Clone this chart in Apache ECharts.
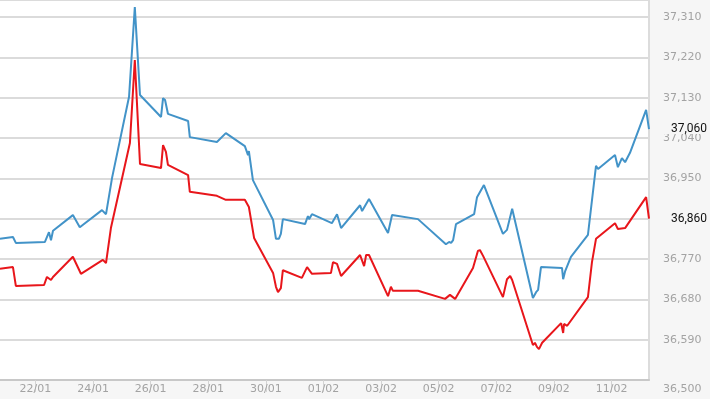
<!DOCTYPE html>
<html>
<head>
<meta charset="utf-8">
<script src="https://cdn.jsdelivr.net/npm/echarts@6/dist/echarts.min.js"></script>
<style>
    html, body { margin: 0; padding: 0; background: #f6f6f6; }
    #chart { width: 710px; height: 399px; }
</style>
</head>
<body>
<div id="chart"></div>
<script>
// x values are day numbers counted from 1 Jan (1 Feb = 32)
const tickDays = [22, 24, 26, 28, 30, 32, 34, 36, 38, 40, 42];
const tickLabels = ["22/01", "24/01", "26/01", "28/01", "30/01", "01/02", "03/02", "05/02", "07/02", "09/02", "11/02"];

const blueDays = [20.77, 21.22, 21.32, 22.33, 22.47, 22.54, 22.61, 23.30, 23.54, 24.31, 24.45, 24.66, 25.25, 25.45, 25.63,
    26.36, 26.43, 26.50, 26.60, 27.30, 27.36, 28.30, 28.61, 29.27, 29.38, 29.41, 29.55, 30.25, 30.35, 30.45,
    30.52, 30.59, 31.36, 31.46, 31.50, 31.60, 32.29, 32.47, 32.61, 33.27, 33.34, 33.58, 34.24, 34.38, 35.28,
    36.25, 36.36, 36.43, 36.50, 36.60, 37.23, 37.33, 37.57, 38.23, 38.37, 38.55, 39.27, 39.38, 39.45, 39.55,
    40.28, 40.32, 40.39, 40.59, 41.18, 41.46, 41.53, 42.12, 42.22, 42.36, 42.47, 42.64, 43.20, 43.30];
const blueValues = [36815, 36819, 36806, 36808, 36830, 36812, 36833, 36868, 36841, 36879, 36870, 36951, 37132, 37332, 37136,
    37087, 37129, 37125, 37094, 37078, 37042, 37031, 37051, 37022, 37002, 37011, 36946, 36857, 36815, 36815,
    36826, 36859, 36848, 36866, 36859, 36870, 36850, 36870, 36839, 36890, 36877, 36904, 36828, 36868, 36859,
    36803, 36808, 36806, 36812, 36848, 36870, 36908, 36935, 36826, 36835, 36882, 36683, 36696, 36701, 36752,
    36750, 36725, 36743, 36775, 36824, 36978, 36971, 37002, 36975, 36995, 36986, 37007, 37103, 37060];

const redDays = [20.77, 21.22, 21.32, 22.30, 22.40, 22.54, 22.61, 23.30, 23.58, 24.34, 24.45, 24.62, 25.28, 25.45, 25.63,
    26.36, 26.43, 26.53, 26.60, 27.30, 27.36, 28.30, 28.61, 29.27, 29.41, 29.59, 30.25, 30.35, 30.42, 30.52,
    30.59, 31.25, 31.43, 31.60, 32.26, 32.33, 32.47, 32.61, 33.27, 33.41, 33.48, 33.58, 34.24, 34.34, 34.41,
    35.28, 36.22, 36.39, 36.57, 37.19, 37.36, 37.43, 37.54, 38.23, 38.37, 38.48, 38.55, 39.27, 39.34, 39.41,
    39.48, 39.59, 40.25, 40.32, 40.35, 40.46, 41.18, 41.32, 41.46, 42.12, 42.22, 42.47, 43.20, 43.30];
const redValues = [36748, 36752, 36710, 36712, 36730, 36723, 36730, 36775, 36737, 36768, 36761, 36839, 37029, 37214, 36982,
    36973, 37024, 37009, 36980, 36957, 36920, 36911, 36902, 36902, 36886, 36817, 36739, 36708, 36696, 36705,
    36745, 36728, 36752, 36737, 36739, 36763, 36759, 36732, 36779, 36754, 36779, 36779, 36687, 36708, 36699,
    36699, 36681, 36690, 36681, 36750, 36788, 36790, 36777, 36685, 36725, 36732, 36723, 36578, 36583, 36574,
    36569, 36583, 36627, 36605, 36625, 36621, 36685, 36763, 36815, 36850, 36837, 36839, 36908, 36860];

const yMin = 36500;
const yMax = 37348;
const yStep = 90;

window.onload = function () {

    function fmt(v) {
        return String(Math.round(v)).replace(/\B(?=(\d{3})+(?!\d))/g, ",");
    }

    function pairs(xs, ys) {
        return xs.map((x, i) => [x, ys[i]]);
    }

    const chart = echarts.init(document.querySelector("#chart"));

    // last value shown in black next to the axis
    const endLabel = {
        show: true,
        distance: 14,
        color: "#111",
        fontFamily: "Roboto, sans-serif",
        fontSize: 12,
        lineHeight: 10,
        padding: [0, 3, 0, 8],
        backgroundColor: "#f6f6f6",
        formatter: p => fmt(p.value[1])
    };

    const option = {
        animation: false,
        backgroundColor: "#f6f6f6",
        grid: {
            left: 0, right: 61, top: 0, bottom: 19,
            show: true, backgroundColor: "#fff", borderWidth: 0
        },
        xAxis: {
            type: "value",
            min: 20.77,
            max: 43.30,
            axisLine: {lineStyle: {color: "#c8c8c8", width: 2}},
            axisTick: {show: true, length: 12, customValues: tickDays, lineStyle: {color: "#d4d4d4"}},
            axisLabel: {
                customValues: tickDays,
                margin: 4,
                color: "#a3a3a3",
                fontFamily: "DejaVu Sans",
                fontSize: 11,
                formatter: v => tickLabels[tickDays.indexOf(Math.round(v))] || ""
            },
            splitLine: {show: false}
        },
        yAxis: {
            type: "value",
            position: "right",
            min: yMin,
            max: yMax,
            interval: yStep,
            axisLine: {show: true, lineStyle: {color: "#dcdcdc", width: 2}},
            axisTick: {show: false},
            axisLabel: {
                margin: 14,
                showMaxLabel: false,
                color: "#a3a3a3",
                fontFamily: "DejaVu Sans",
                fontSize: 11,
                formatter: v => v === yMin ? "{low|" + fmt(v) + "}" : fmt(v),
                rich: {low: {padding: [18, 0, 0, 0], color: "#a3a3a3", fontFamily: "DejaVu Sans", fontSize: 11}}
            },
            splitLine: {lineStyle: {color: "#cfcfcf", width: 1.5}}
        },
        series: [{
            type: "line",
            data: pairs(blueDays, blueValues),
            symbol: "none",
            lineStyle: {color: "#4293c8", width: 2},
            endLabel: endLabel
        }, {
            type: "line",
            data: pairs(redDays, redValues),
            symbol: "none",
            lineStyle: {color: "#e8161b", width: 2},
            endLabel: endLabel
        }]
    };

    option && chart.setOption(option);
}
</script>
</body>
</html>
